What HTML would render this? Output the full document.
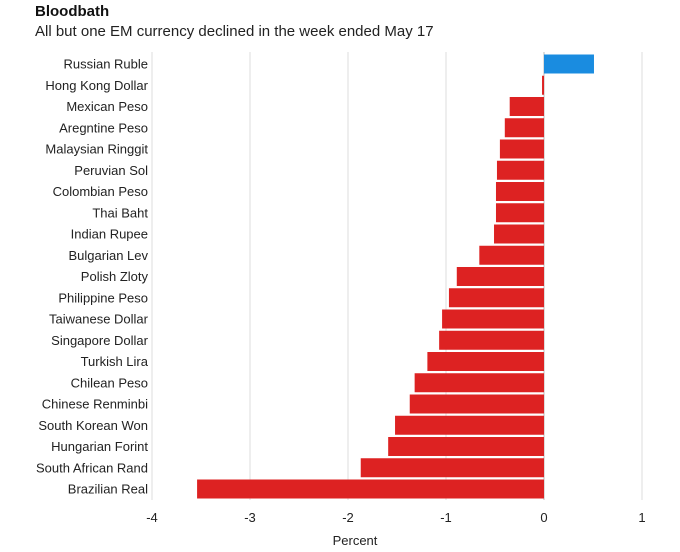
<!DOCTYPE html>
<html><head><meta charset="utf-8"><style>
body{margin:0;background:#fff;font-family:"Liberation Sans",sans-serif;}
#wrap{position:relative;width:680px;height:552px;overflow:hidden;}
.title{position:absolute;left:35px;top:3px;font-size:15px;font-weight:bold;color:#111;}
.sub{position:absolute;left:35px;top:23px;font-size:15px;color:#222;}
svg{position:absolute;left:0;top:0;}
</style></head><body>
<div id="wrap">
<div class="title">Bloodbath</div>
<div class="sub">All but one EM currency declined in the week ended May 17</div>
<svg id="svg" width="680" height="552">
<defs><clipPath id="lc"><rect x="33" y="0" width="130" height="552"/></clipPath></defs>
</svg>
</div>
<script>
const categories=["Russian Ruble","Hong Kong Dollar","Mexican Peso","Aregntine Peso","Malaysian Ringgit","Peruvian Sol","Colombian Peso","Thai Baht","Indian Rupee","Bulgarian Lev","Polish Zloty","Philippine Peso","Taiwanese Dollar","Singapore Dollar","Turkish Lira","Chilean Peso","Chinese Renminbi","South Korean Won","Hungarian Forint","South African Rand","Brazilian Real"];
const values=[0.51,-0.02,-0.35,-0.40,-0.45,-0.48,-0.49,-0.49,-0.51,-0.66,-0.89,-0.97,-1.04,-1.07,-1.19,-1.32,-1.37,-1.52,-1.59,-1.87,-3.54];
const ticks=[-4,-3,-2,-1,0,1];
const svg=document.getElementById('svg');
const NS='http://www.w3.org/2000/svg';
const x=v=>544+v*98;
const y=i=>64+i*21.25;
function mk(t,a){const e=document.createElementNS(NS,t);for(const k in a)e.setAttribute(k,a[k]);svg.appendChild(e);return e;}
ticks.forEach(t=>{
 const g=mk('line',{x1:x(t),x2:x(t),y1:52,y2:500,stroke:t===0?'#bbb':'#ddd','stroke-width':1});
 
 
 const l=mk('text',{x:x(t),y:522,'text-anchor':'middle','font-size':13,fill:'#222'});
 l.textContent=t;
 
 
});
const lg=document.createElementNS(NS,'g');lg.setAttribute('clip-path','url(#lc)');svg.appendChild(lg);
categories.forEach((c,i)=>{
 const v=values[i];
 const r=mk('rect',{x:Math.min(x(0),x(v)),y:y(i)-9.5,width:Math.abs(x(v)-x(0)),height:19,fill:v>=0?'#1a8ce0':'#dd2222'});
 
 
 const t=document.createElementNS(NS,'text');
 t.setAttribute('x',148);t.setAttribute('y',y(i)+4.5);t.setAttribute('text-anchor','end');
 t.setAttribute('font-size',13);t.setAttribute('fill','#222');
 t.textContent=c;
 
 
 lg.appendChild(t);
});
const at=mk('text',{x:355,y:545,'text-anchor':'middle','font-size':13,fill:'#222'});
at.textContent='Percent';


</script>
</body></html>
